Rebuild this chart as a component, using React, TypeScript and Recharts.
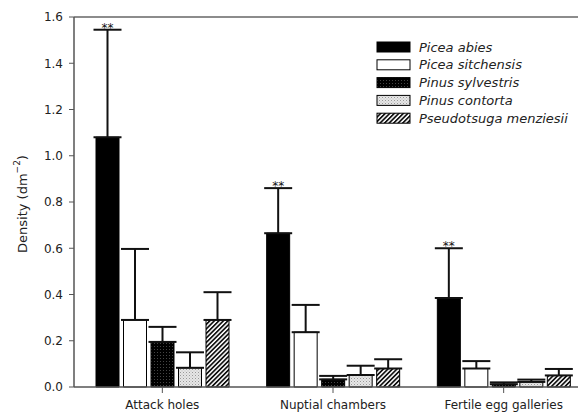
import { Bar, BarChart, ErrorBar, LabelList, Legend, ReferenceLine, XAxis, YAxis } from "recharts";

const CATEGORIES = ["Attack holes", "Nuptial chambers", "Fertile egg galleries"];

const SPECIES = [
  "Picea abies",
  "Picea sitchensis",
  "Pinus sylvestris",
  "Pinus contorta",
  "Pseudotsuga menziesii",
];

// mean density per species, one value per category
const ABIES = [1.08, 0.665, 0.385];
const SITCHENSIS = [0.29, 0.237, 0.08];
const SYLVESTRIS = [0.195, 0.033, 0.012];
const CONTORTA = [0.083, 0.052, 0.022];
const MENZIESII = [0.29, 0.08, 0.05];

// upper error (SE) per species
const ABIES_ERR = [0.465, 0.195, 0.215];
const SITCHENSIS_ERR = [0.307, 0.118, 0.032];
const SYLVESTRIS_ERR = [0.065, 0.015, 0.008];
const CONTORTA_ERR = [0.067, 0.04, 0.01];
const MENZIESII_ERR = [0.12, 0.04, 0.028];

const SIGNIF = ["**", "**", "**"];

const Y_TICKS = [0, 0.2, 0.4, 0.6, 0.8, 1.0, 1.2, 1.4, 1.6];

const MEANS = [ABIES, SITCHENSIS, SYLVESTRIS, CONTORTA, MENZIESII];
const ERRS = [ABIES_ERR, SITCHENSIS_ERR, SYLVESTRIS_ERR, CONTORTA_ERR, MENZIESII_ERR];
const FILLS = ["#000", "#fff", "url(#sylv)", "url(#cont)", "url(#menz)"];

const data = CATEGORIES.map((name, i) => {
  const row: Record<string, any> = { name };
  SPECIES.forEach((_, s) => {
    row["s" + s] = MEANS[s][i];
    row["e" + s] = [0, ERRS[s][i]];
  });
  return row;
});

const FONT = "'DejaVu Sans', Arial, sans-serif";

function Stars(p: any) {
  const vb = p.viewBox || p;
  const i = p.index;
  const v = ABIES[i];
  if (!v || vb.height == null) return null;
  const errPx = (ABIES_ERR[i] / v) * vb.height;
  return (
    <text
      x={vb.x + vb.width / 2}
      y={vb.y - errPx + 2}
      textAnchor="middle"
      fontSize={12}
      fontFamily={FONT}
      fill="#111"
    >
      {SIGNIF[i]}
    </text>
  );
}

function YLabel() {
  return (
    <text
      x={22}
      y={204}
      transform="rotate(-90, 22, 204)"
      textAnchor="middle"
      dominantBaseline="central"
      fontSize={13}
      fontFamily={FONT}
      fill="#222"
    >
      Density (dm
      <tspan dy={-5} fontSize={9}>
        −2
      </tspan>
      <tspan dy={5}>)</tspan>
    </text>
  );
}

function SpeciesLegend() {
  return (
    <svg width={200} height={95} style={{ display: "block" }}>
      {SPECIES.map((s, i) => (
        <g key={s}>
          <rect x={1} y={2 + i * 17.8} width={33} height={10} fill={FILLS[i]} stroke="#000" strokeWidth={1} />
          <text
            x={43}
            y={7 + i * 17.8}
            dominantBaseline="central"
            fontSize={13}
            fontStyle="italic"
            fontFamily={FONT}
            fill="#222"
          >
            {s}
          </text>
        </g>
      ))}
    </svg>
  );
}

export default function App() {
  return (
    <div
      style={{
        position: "absolute",
        left: 0,
        top: 0,
        width: 578,
        height: 414,
        overflow: "hidden",
        background: "#fff",
      }}
    >
      <BarChart
        width={600}
        height={414}
        data={data}
        margin={{ top: 17, right: 8, bottom: 7, left: 14 }}
        barSize={23}
        barGap={4.5}
      >
        <defs>
          <pattern id="sylv" width={3} height={3} patternUnits="userSpaceOnUse">
            <rect width={3} height={3} fill="#000" />
            <rect x={1} y={1} width={1} height={1} fill="#444" />
          </pattern>
          <pattern id="cont" width={3} height={3} patternUnits="userSpaceOnUse">
            <rect width={3} height={3} fill="#e6e6e6" />
            <rect x={0} y={0} width={1} height={1} fill="#999" />
            <rect x={1.5} y={1.5} width={1} height={1} fill="#bbb" />
          </pattern>
          <pattern
            id="menz"
            width={3.2}
            height={3.2}
            patternUnits="userSpaceOnUse"
            patternTransform="rotate(45)"
          >
            <rect width={3.2} height={3.2} fill="#fff" />
            <rect width={1.7} height={3.2} fill="#111" />
          </pattern>
        </defs>
        <ReferenceLine y={1.6} stroke="#666" strokeWidth={1.5} />
        <XAxis
          dataKey="name"
          padding={{ left: 3, right: 3 }}
          height={20}
          axisLine={{ stroke: "#555", strokeWidth: 1.5 }}
          tickLine={{ stroke: "#555" }}
          tickSize={6}
          tickMargin={7}
          tick={{ fontSize: 12, fontFamily: FONT, fill: "#222" }}
          interval={0}
        />
        <YAxis
          width={60}
          domain={[0, 1.6]}
          ticks={Y_TICKS}
          tickFormatter={(v: number) => v.toFixed(1)}
          axisLine={{ stroke: "#555", strokeWidth: 1.5 }}
          tickLine={{ stroke: "#555" }}
          tickSize={5}
          tickMargin={6}
          tick={{ fontSize: 12, fontFamily: FONT, fill: "#222" }}
          label={<YLabel />}
        />
        <Legend
          layout="horizontal"
          verticalAlign="middle"
          align="center"
          content={<SpeciesLegend />}
          wrapperStyle={{ position: "absolute", left: 376, top: 40, width: 200, height: 95 }}
        />
        {SPECIES.map((s, i) => (
          <Bar
            key={s}
            dataKey={"s" + i}
            name={s}
            fill={FILLS[i]}
            stroke="#000"
            strokeWidth={1}
            isAnimationActive={false}
          >
            <ErrorBar dataKey={"e" + i} width={14} stroke="#111" strokeWidth={2} direction="y" />
            {i === 0 && <LabelList dataKey={"s0"} content={<Stars />} />}
          </Bar>
        ))}
      </BarChart>
    </div>
  );
}
